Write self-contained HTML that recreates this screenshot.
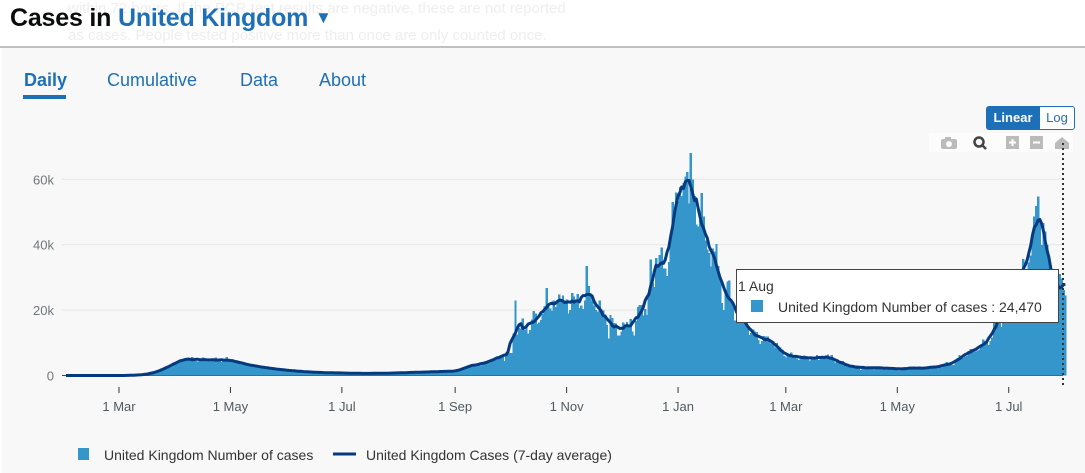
<!DOCTYPE html>
<html><head><meta charset="utf-8">
<style>
body{margin:0;width:1085px;height:473px;overflow:hidden;background:#fff;font-family:"Liberation Sans",sans-serif;position:relative}
.abs{position:absolute}
#hdr{left:0;top:0;width:1085px;height:46px;background:#fff;border-bottom:2px solid #bfc1c3}
#title{left:10px;top:4px;font-size:25px;font-weight:bold;color:#0b0c0c;letter-spacing:-0.2px;white-space:nowrap}
#title span{color:#1d70b8}
.ghost{color:#eeeeee;font-size:15px;white-space:nowrap}
#panel{left:2px;top:48px;width:1083px;height:425px;background:#f8f8f8}
.tab{top:70px;font-size:18px;color:#1d70b8;white-space:nowrap}
</style></head><body>
<div id="hdr" class="abs">
<div class="abs ghost" style="left:68px;top:0px">within 72 hours. If the PCR test results are negative, these are not reported</div>
<div class="abs ghost" style="left:68px;top:27px">as cases. People tested positive more than once are only counted once.</div>
<div id="title" class="abs">Cases in <span>United Kingdom <span style="font-size:17px;position:relative;top:-3px">▼</span></span></div>
</div>
<div id="panel" class="abs"></div>
<div class="abs tab" style="left:24px;font-weight:bold">Daily</div>
<div class="abs" style="left:23px;top:95px;width:43px;height:4px;background:#1d70b8"></div>
<div class="abs tab" style="left:107px">Cumulative</div>
<div class="abs tab" style="left:240px">Data</div>
<div class="abs tab" style="left:319px">About</div>
<div class="abs" style="left:986px;top:106px;width:52px;height:22px;background:#1d70b8;color:#fff;font-weight:bold;font-size:13px;line-height:22px;text-align:center;border-radius:3px 0 0 3px;border:1px solid #1d70b8">Linear</div>
<div class="abs" style="left:1039px;top:106px;width:34px;height:22px;background:#fff;color:#1d70b8;font-size:13px;line-height:22px;text-align:center;border-radius:0 3px 3px 0;border:1px solid #1d70b8">Log</div>
<svg class="abs" style="left:0;top:0" width="1085" height="473" id="chart">
<g id="modebar">
<rect x="929" y="133" width="144" height="19" fill="#fff" opacity="0.5"/>
<g><rect x="941" y="139" width="16" height="10" rx="2" fill="#bbb"/><rect x="945" y="137" width="6" height="3" fill="#bbb"/><circle cx="949" cy="144" r="3" fill="#fff"/></g>
<g><circle cx="979" cy="142" r="4.5" fill="none" stroke="#444" stroke-width="2.5"/><line x1="982" y1="145" x2="986" y2="149" stroke="#444" stroke-width="2.5"/></g>
<g><rect x="1006" y="136" width="13" height="13" fill="#bbb"/><path d="M1009 142.5h7M1012.5 139v7" stroke="#fff" stroke-width="2"/></g>
<g><rect x="1030" y="136" width="13" height="13" fill="#bbb"/><path d="M1033 142.5h7" stroke="#fff" stroke-width="2"/></g>
<g><path d="M1055 143l7-6 7 6v6h-14z" fill="#bbb"/></g>
</g>
<g id="grid"></g><g id="bars" shape-rendering="crispEdges"></g><g id="avg"></g><g id="xaxis"></g>
<line x1="1063" y1="143" x2="1063" y2="388" stroke="#333" stroke-width="2" stroke-dasharray="2,3"/>
<g>
<rect x="736.5" y="269.5" width="322" height="53" fill="#fff" stroke="#444"/>
<text x="738" y="291" font-size="14" fill="#333">1 Aug</text>
<rect x="751" y="300" width="12" height="12" fill="#3596cb"/>
<text x="778" y="312" font-size="14" fill="#333">United Kingdom Number of cases : 24,470</text>
</g>
<g>
<rect x="78" y="448" width="11" height="12" fill="#3596cb"/>
<text x="104" y="460" font-size="14" fill="#333">United Kingdom Number of cases</text>
<line x1="333" y1="454" x2="356" y2="454" stroke="#063a7f" stroke-width="3"/>
<text x="366" y="460" font-size="14" fill="#333">United Kingdom Cases (7-day average)</text>
</g>
</svg>
<script>
// daily cases in thousands, starting 1 Feb 2020
const feb20=Array(29).fill(0);
const mar20=[0,0,0,0,0,0,0.1,0.1,0.1,0.1,0.1,0.2,0.2,0.3,0.3,0.4,0.5,0.6,0.7,0.9,1.0,1.2,1.4,1.6,1.9,2.1,2.5,2.8,3.0,3.2,3.4];
const apr20=[3.8,4.2,4.4,4.6,4.9,5.3,4.6,4.8,5.1,5.6,4.9,4.4,4.3,4.9,5.2,5.5,4.8,4.6,4.8,4.3,4.5,5.0,5.5,4.9,4.6,4.2,4.4,4.6,5.6,4.9];
const may20=[4.6,4.4,4.1,4.0,4.4,4.3,3.9,3.7,3.5,3.3,3.1,3.2,3.3,3.0,2.9,2.8,2.6,2.5,2.6,2.5,2.4,2.3,2.2,2.1,2.0,2.0,2.0,1.9,1.8,1.7,1.6];
const jun20=[1.6,1.6,1.5,1.5,1.4,1.4,1.3,1.3,1.2,1.2,1.2,1.1,1.1,1.1,1.0,1.0,1.0,1.0,0.9,0.9,0.9,0.9,0.9,0.8,0.8,0.8,0.8,0.8,0.8,0.8];
const jul20=[0.8,0.8,0.7,0.7,0.7,0.7,0.7,0.7,0.7,0.7,0.7,0.7,0.6,0.6,0.6,0.6,0.7,0.7,0.7,0.7,0.7,0.7,0.7,0.7,0.7,0.7,0.7,0.7,0.8,0.8,0.8];
const aug20=[0.8,0.8,0.8,0.8,0.9,0.9,0.9,0.9,1.0,1.0,1.0,1.0,1.0,1.0,1.0,1.1,1.1,1.1,1.1,1.1,1.2,1.2,1.2,1.2,1.2,1.2,1.3,1.3,1.3,1.3,1.3];
const sep20=[1.3,1.4,1.6,1.8,2.0,2.2,2.5,2.8,2.9,3.0,3.2,3.4,3.5,3.3,3.1,3.6,4.0,4.4,4.3,4.0,4.4,4.9,5.0,5.5,6.0,6.2,6.0,4.4,7.1,7.1];
const oct20=[6.9,6.9,12.9,22.9,12.6,14.5,14.2,17.5,13.9,15.2,12.9,13.9,17.2,19.7,18.9,15.7,16.2,16.9,18.8,21.3,26.7,21.2,20.5,19.8,23.0,20.9,22.9,24.7,23.1,24.4,21.9];
const nov20=[23.3,18.9,20.0,25.2,24.1,23.3,24.9,20.6,21.4,20.4,22.9,33.5,27.3,24.9,23.0,21.4,20.1,19.6,22.9,20.3,19.9,18.7,15.5,11.3,18.5,17.6,16.0,15.9,12.2,12.3];
const dec20=[13.4,16.2,14.9,16.3,15.5,17.3,13.5,12.3,16.6,20.9,21.5,21.5,18.4,20.3,18.5,25.2,35.4,28.5,27.1,35.9,33.4,36.8,39.2,32.7,32.7,30.5,34.7,41.4,53.1,50.0,55.9];
const jan21=[53.3,57.7,54.9,58.8,60.9,62.3,52.6,68.0,59.9,54.9,46.2,45.5,47.5,55.8,48.7,41.3,38.6,37.5,33.4,38.9,37.9,40.2,33.5,30.0,22.2,20.1,25.3,28.7,29.1,23.3,21.1];
const feb21=[16.8,16.6,19.2,20.6,18.3,17.1,15.8,15.0,12.4,13.0,14.1,13.5,13.3,10.9,9.7,10.6,12.1,12.0,12.0,10.4,9.8,10.6,8.5,9.9,8.5,8.6,7.4,6.0];
const mar21=[5.5,6.4,6.0,7.0,6.1,6.0,5.2,4.7,5.8,6.0,6.1,5.5,5.3,4.6,5.1,5.3,5.8,6.3,4.8,5.6,5.3,5.4,5.3,6.4,5.6,6.2,4.7,3.9,4.7,4.1,4.1];
const apr21=[4.5,3.4,3.4,2.6,2.8,2.4,3.0,2.7,3.1,2.6,1.7,2.1,2.5,2.6,2.8,2.6,2.0,1.9,2.4,2.5,2.4,2.7,2.6,2.0,1.7,2.1,2.1,2.6,2.6,2.1];
const may21=[1.9,1.6,1.6,1.9,2.6,2.5,2.3,2.0,1.8,2.4,2.5,2.3,2.7,2.2,2.0,1.9,2.2,2.4,2.7,2.9,2.8,2.6,2.2,2.5,2.5,3.2,3.6,4.2,3.4,3.2,3.2];
const jun21=[3.2,4.3,5.3,6.2,5.8,5.3,5.7,6.0,7.5,8.1,8.1,7.7,7.4,7.7,8.0,9.1,11.0,10.5,10.3,9.3,10.6,11.6,16.1,16.7,15.8,18.3,14.9,22.9,20.5,26.1];
const jul21=[27.9,27.1,24.9,24.2,27.3,28.8,32.5,32.5,35.7,32.4,31.8,34.5,36.7,42.3,48.6,51.9,54.7,48.2,39.9,46.6,44.1,39.9,36.4,31.8,29.2,24.9,23.5,27.7,31.1,29.6,26.1];
const aug21=[24.47];
const yTicks=[0,20,40,60];
const yTickLabels=["0","20k","40k","60k"];
const xTickDays=[29,90,151,213,274,335,394,455,516];
const xTickLabels=["1 Mar","1 May","1 Jul","1 Sep","1 Nov","1 Jan","1 Mar","1 May","1 Jul"];

const daily=[].concat(feb20,mar20,apr20,may20,jun20,jul20,aug20,sep20,oct20,nov20,dec20,jan21,feb21,mar21,apr21,may21,jun21,jul21,aug21);
const NS="http://www.w3.org/2000/svg";
const xDay=d=>66+d*1.827;
const yVal=v=>375.5-v*3.27;
function mk(t,a,p){const e=document.createElementNS(NS,t);for(const k in a)e.setAttribute(k,a[k]);p.appendChild(e);return e;}
const grid=document.getElementById('grid');
yTicks.forEach((v,i)=>{
  if(v>0){const l=mk('line',{x1:62,x2:1063,y1:yVal(v),y2:yVal(v),stroke:'#e6e6e6','stroke-width':1},grid);
  
  }
  const t=mk('text',{x:54,y:yVal(v)+5,'text-anchor':'end','font-size':13,fill:'#6f777b'},grid);
  t.textContent=yTickLabels[i];
  
  
});
const bars=document.getElementById('bars');
daily.forEach((v,i)=>{
  const h=v*3.27;
  const r=mk('rect',{x:xDay(i)-1.1,y:375.5-h,width:2.4,height:h,fill:'#3596cb'},bars);
  
  
});
mk('line',{x1:62,x2:1063,y1:375.5,y2:375.5,stroke:'#444','stroke-width':1},grid);
const avg=[];
for(let i=0;i<daily.length;i++){let s=0,n=0;for(let j=Math.max(0,i-3);j<=Math.min(daily.length-1,i+3);j++){s+=daily[j];n++;}avg.push(s/n);}
const p=mk('path',{d:avg.map((v,i)=>(i?'L':'M')+xDay(i).toFixed(1)+' '+yVal(v).toFixed(1)).join(''),fill:'none',stroke:'#063a7f','stroke-width':3,'stroke-linejoin':'round'},document.getElementById('avg'));


const xa=document.getElementById('xaxis');
xTickDays.forEach((d,i)=>{
  const l=mk('line',{x1:xDay(d),x2:xDay(d),y1:387,y2:393,stroke:'#333','stroke-width':1},xa);
  
  
  const t=mk('text',{x:xDay(d),y:411,'text-anchor':'middle','font-size':13,fill:'#505a5f'},xa);
  t.textContent=xTickLabels[i];
  
  
});
</script>
</body></html>
